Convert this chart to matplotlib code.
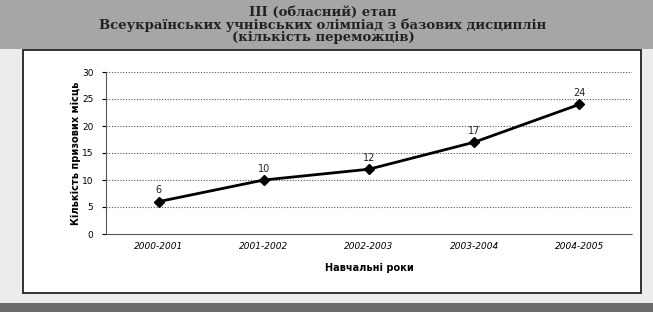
import matplotlib
matplotlib.use("Agg")
import matplotlib.pyplot as plt
from matplotlib.patches import Rectangle

years = ["2000-2001", "2001-2002", "2002-2003", "2003-2004", "2004-2005"]
winners = [6, 10, 12, 17, 24]
yticks = [0, 5, 10, 15, 20, 25, 30]

title = ("ІІІ (обласний) етап\n"
         "Всеукраїнських учнівських олімпіад з базових дисциплін\n"
         "(кількість переможців)")

W, H = 653, 312
fig = plt.figure(figsize=(W / 100, H / 100), dpi=100, facecolor="#ececec")

# header band, chart frame and bottom band (pixel coords -> figure fraction)
def box(x0, y0, x1, y1, **kw):
    fig.patches.append(Rectangle((x0 / W, 1 - y1 / H), (x1 - x0) / W, (y1 - y0) / H,
                                 transform=fig.transFigure, zorder=-10, **kw))

box(0, 0, W, 49, facecolor="#a6a6a6", edgecolor="none")
box(23, 50, 641, 293, facecolor="white", edgecolor="#222222", linewidth=1.3)
box(0, 303, W, H, facecolor="#6a6a6a", edgecolor="none")

fig.text(323 / W, 1 - 25 / H, title, ha="center", va="center", fontsize=9.5,
         family="DejaVu Serif", fontweight="bold", color="#222222",
         linespacing=0.9)

ax = fig.add_axes([106 / W, 1 - 234 / H, (632 - 106) / W, (234 - 72) / H])
ax.set_zorder(5)
ax.set_facecolor("white")
x = range(len(years))
ax.plot(x, winners, color="black", linewidth=2, marker="D", markersize=5.5, zorder=3)
for xi, v in zip(x, winners):
    ax.annotate(str(v), (xi, v), textcoords="offset points", xytext=(0, 6),
                ha="center", fontsize=7, color="#222222")

ax.set_xlim(-0.5, len(years) - 0.5)
ax.set_ylim(0, 30)
ax.set_yticks(yticks)
ax.set_xticks(list(x))
ax.set_xticklabels(years, fontsize=6.5, style="italic")
ax.tick_params(axis="y", labelsize=6.5, length=3, pad=6)
ax.tick_params(axis="x", length=0, pad=6)
for y in yticks[1:]:
    ax.axhline(y, color="#555555", linewidth=0.8, linestyle=(0, (1, 1.5)), zorder=1)
for s in ["top", "right"]:
    ax.spines[s].set_visible(False)
ax.spines["left"].set_linestyle((0, (1, 1)))
ax.spines["bottom"].set_linestyle((0, (1, 1)))
ax.spines["left"].set_color("#555555")
ax.spines["bottom"].set_color("#555555")

ax.set_xlabel("Навчальні роки", fontsize=7, fontweight="bold", labelpad=8)
ax.set_ylabel("Кількість призових місць", fontsize=7, fontweight="bold", labelpad=1)

fig.savefig("out.png", dpi=100, facecolor=fig.get_facecolor())
